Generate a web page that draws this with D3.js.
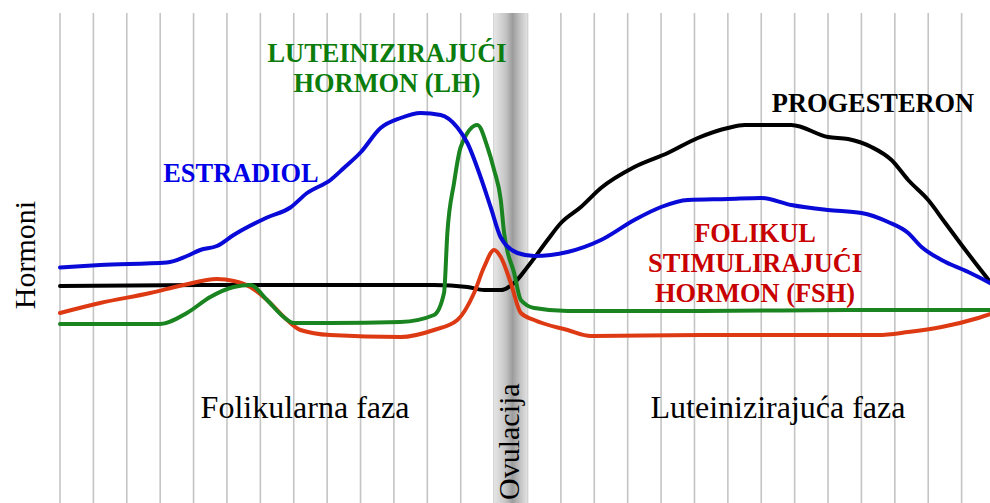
<!DOCTYPE html>
<html>
<head>
<meta charset="utf-8">
<script src="https://cdn.jsdelivr.net/npm/d3@7"></script>
<style>
  body { margin: 0; background: #fff; }
  svg text { font-family: "Liberation Serif", "Times New Roman", serif; }
</style>
</head>
<body>
<div id="graphics"></div>
<script>
var width = 990, height = 503;

// day of cycle, hormone level (relative units 0-100)
var estradiol = [[0,33],[1.2,34],[3.2,35],[3.8,37.6],[4.2,40],[4.7,41.6],[5.2,46],[6.2,53],[6.9,57],
  [7.4,62.8],[8.1,68],[8.5,72.8],[9.0,79],[9.6,88.8],[10.2,92.8],[10.8,94.8],[11.4,94],[11.9,89],
  [12.2,82.8],[12.6,69],[12.9,57],[13.2,45],[13.7,38.8],[14.2,37.6],[14.7,38],[15.2,39.2],[16.2,44],
  [17.2,52],[18.0,57.2],[18.8,60],[20.0,60.4],[21.0,60.8],[21.9,58],[23.0,56],[24.0,54.8],[24.8,51.2],
  [25.4,46.8],[25.8,41.2],[26.4,36],[27.2,31.2],[27.9,26.5]];

var progesteron = [[0,25.6],[4.2,26],[11.2,26],[12.2,25.2],[12.7,24],[13.2,24],[13.6,26.8],[14.0,33.2],
  [14.6,44],[15.0,50.8],[15.6,57.2],[16.2,64.8],[17.2,73.2],[18.2,78.8],[19.1,84.8],[20.0,88.8],
  [20.5,90],[21.9,90],[23.0,85.2],[23.6,84.4],[24.3,81.2],[24.9,76],[25.4,68],[26.0,60],[26.5,51],
  [27.0,42],[27.4,35],[27.9,26.5]];

var lh = [[0,10.4],[3.0,10.4],[3.8,14.8],[4.5,21.2],[5.2,25.2],[5.7,26],[6.2,20],[6.7,13.2],[7.0,10.8],
  [8.1,10.8],[10.2,11.2],[11.2,14],[11.5,22.8],[11.6,46.8],[11.8,66.8],[12.0,81.2],[12.5,90],[12.8,81.2],
  [13.0,72],[13.2,60],[13.3,46.8],[13.6,30.8],[13.8,20],[14.2,16.8],[15.2,15.6],[19.2,15.6],[23.7,16],[28,16]];

var fsh = [[0,14.8],[1.2,18.8],[2.7,22.8],[3.7,26],[4.7,28.4],[5.2,27.6],[5.7,25.2],[6.2,20],[6.8,12],
  [7.2,8],[8.1,6],[10.2,5.2],[11.2,8],[11.9,12],[12.4,22.8],[12.7,33.2],[13.0,40],[13.2,37.2],[13.5,26.8],
  [13.8,14.8],[14.2,12],[15.2,8],[15.9,5.6],[19.2,6],[24.5,6],[25.4,7.2],[26.4,9.2],[27.5,12.8],[28,15]];

var days = [0, 28];
var ovulation = [13, 14];

var x = d3.scaleLinear().domain(days).range([60, 995]);
var y = d3.scaleLinear().domain([0, 100]).range([350, 100]);

var svg = d3.select('#graphics')
  .append('svg')
  .attr('width', width)
  .attr('height', height);

// gradient for the ovulation band
var grad = svg.append('defs').append('linearGradient')
  .attr('id', 'band')
  .attr('x1', '0%').attr('x2', '100%').attr('y1', '0%').attr('y2', '0%');
grad.append('stop').attr('offset', '0%').attr('stop-color', '#e6e6e6');
grad.append('stop').attr('offset', '35%').attr('stop-color', '#c4c4c4');
grad.append('stop').attr('offset', '55%').attr('stop-color', '#9c9c9c');
grad.append('stop').attr('offset', '75%').attr('stop-color', '#bebebe');
grad.append('stop').attr('offset', '100%').attr('stop-color', '#e2e2e2');

svg.append('clipPath').attr('id', 'clip')
  .append('rect').attr('x', 0).attr('y', 0).attr('width', 990).attr('height', height);

// vertical grid, one line per day
svg.append('g')
  .selectAll('line')
  .data(d3.range(days[0], days[1] + 1))
  .enter().append('line')
  .attr('x1', d => x(d)).attr('x2', d => x(d))
  .attr('y1', 13).attr('y2', height)
  .attr('stroke', '#c4c4c4')
  .attr('stroke-width', 1.6);

svg.append('rect')
  .attr('x', x(ovulation[0]))
  .attr('y', 13)
  .attr('width', x(ovulation[1]) - x(ovulation[0]))
  .attr('height', height - 13)
  .attr('fill', 'url(#band)');

var line = d3.line()
  .x(d => x(d[0]))
  .y(d => y(d[1]))
  .curve(d3.curveMonotoneX);

var series = [
  {data: progesteron, color: '#000000'},
  {data: fsh, color: '#dd3a14'},
  {data: lh, color: '#1a8420'},
  {data: estradiol, color: '#0a0ad8'}
];

svg.append('g').attr('clip-path', 'url(#clip)')
  .selectAll('path')
  .data(series)
  .enter().append('path')
  .attr('d', d => line(d.data))
  .attr('fill', 'none')
  .attr('stroke', d => d.color)
  .attr('stroke-width', 4)
  .attr('stroke-linejoin', 'round')
  .attr('stroke-linecap', 'round');

// hormone labels
function label(lines, cx, baseline, color) {
  var t = svg.append('text')
    .attr('text-anchor', 'middle')
    .style('font-size', '26.4px')
    .style('font-weight', 'bold')
    .attr('fill', color);
  lines.forEach(function(s, i) {
    t.append('tspan').attr('x', cx).attr('y', baseline + i * 30).text(s);
  });
}
label(['LUTEINIZIRAJUĆI', 'HORMON (LH)'], 387, 62, '#0c7d0c');
label(['ESTRADIOL'], 241, 182, '#0000e6');
label(['PROGESTERON'], 873, 112, '#000000');
label(['FOLIKUL', 'STIMULIRAJUĆI', 'HORMON (FSH)'], 755, 242, '#c80000');

// phase labels
svg.append('text')
  .attr('x', 305).attr('y', 418)
  .attr('text-anchor', 'middle')
  .style('font-size', '32px')
  .text('Folikularna faza');

svg.append('text')
  .attr('x', 778).attr('y', 418)
  .attr('text-anchor', 'middle')
  .style('font-size', '32px')
  .text('Luteinizirajuća faza');

svg.append('text')
  .attr('transform', 'translate(519,500) rotate(-90)')
  .style('font-size', '30px')
  .text('Ovulacija');

svg.append('text')
  .attr('transform', 'translate(35,255) rotate(-90)')
  .attr('text-anchor', 'middle')
  .style('font-size', '30px')
  .text('Hormoni');
</script>
</body>
</html>
